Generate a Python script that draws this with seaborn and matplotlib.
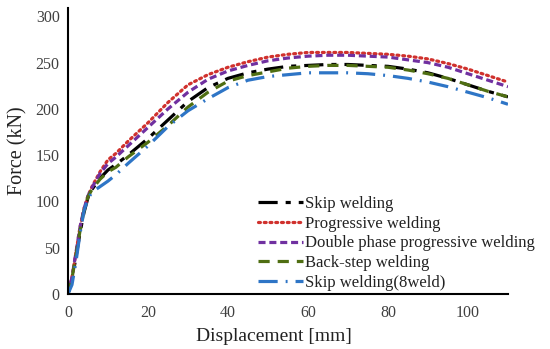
import matplotlib
matplotlib.use("Agg")
import matplotlib.pyplot as plt
import seaborn as sns
import pandas as pd

disp = [0, 1, 2, 3, 4, 5, 6, 8, 10, 12, 15, 20, 25, 30, 35, 40, 45, 50, 55, 60,
        65, 70, 75, 80, 85, 90, 95, 100, 105, 110]

skip = [0, 15, 40, 66, 88, 104, 113, 125, 134, 140, 150, 168, 188, 208, 223, 233,
        239, 243, 246, 247, 248, 248, 247, 246, 243, 239, 233, 226, 219, 213]
progressive = [0, 18, 45, 72, 92, 106, 116, 132, 145, 152, 165, 185, 207, 226, 237,
               245, 251, 256, 259, 261, 261, 261, 260, 259, 257, 254, 249, 243, 236, 229]
double_phase = [0, 18, 45, 72, 92, 106, 115, 130, 141, 148, 160, 180, 200, 218, 232,
                241, 247, 252, 255, 257, 258, 258, 257, 256, 253, 250, 245, 238, 231, 224]
back_step = [0, 17, 42, 68, 90, 105, 113, 124, 132, 137, 148, 164, 182, 202, 218,
             230, 236, 240, 244, 246, 247, 247, 246, 245, 242, 238, 233, 226, 219, 213]
skip8 = [0, 10, 35, 65, 90, 103, 110, 116, 122, 129, 141, 160, 181, 198, 211, 223,
         231, 235, 237, 239, 239, 239, 238, 236, 233, 229, 224, 218, 212, 205]

labels = ["Skip welding", "Progressive welding", "Double phase progressive welding",
          "Back-step welding", "Skip welding(8weld)"]
series = [skip, progressive, double_phase, back_step, skip8]
colors = ["#000000", "#D0312D", "#7030A0", "#4F6E12", "#2E75C6"]
dashes = [(6, 2.5, 1.6, 2.5), (0.6, 1.2), (2.2, 1.2), (3.5, 2.5), (6, 2.5, 0.6, 2.5)]
caps = ["butt", "round", "butt", "butt", "butt"]

sns.set_style("white")
plt.rcParams["font.family"] = ["Liberation Serif", "DejaVu Serif"]

fig = plt.figure(figsize=(5.5, 3.49), dpi=100)
ax = fig.add_axes([0.1236, 0.1576, 0.80, 0.8194])

for lab, ys, c, d, cap in zip(labels, series, colors, dashes, caps):
    df = pd.DataFrame({"x": disp, "y": ys})
    sns.lineplot(data=df, x="x", y="y", ax=ax, color=c, lw=2.3, label=lab,
                 dashes=False, dash_capstyle=cap)
    ax.lines[-1].set_dashes(d)

ax.set_xlim(0, 110)
ax.set_ylim(0, 309)
ax.set_xticks([0, 20, 40, 60, 80, 100])
ax.set_yticks([0, 50, 100, 150, 200, 250, 300])
ax.tick_params(length=0, labelsize=11.5, colors="#404040")
ax.tick_params(axis="x", pad=8)
ax.tick_params(axis="y", pad=6)
for s in ["top", "right"]:
    ax.spines[s].set_visible(False)
for s in ["left", "bottom"]:
    ax.spines[s].set_color("black")
    ax.spines[s].set_linewidth(1.5)
ax.set_xlabel("Displacement [mm]", fontsize=14, color="#222222", labelpad=4)
ax.xaxis.set_label_coords(0.468, -0.118)
ax.set_ylabel("Force (kN)", fontsize=14.5, color="#222222", labelpad=6)

leg = ax.legend(loc="upper left", bbox_to_anchor=(258 / 550, 1 - 196 / 349),
                bbox_transform=fig.transFigure, frameon=False, fontsize=12,
                handlelength=2.7, handletextpad=0.1, labelspacing=0.22,
                borderaxespad=0, borderpad=0)
for t in leg.get_texts():
    t.set_color("#222222")

fig.savefig("out.png", dpi=100)
